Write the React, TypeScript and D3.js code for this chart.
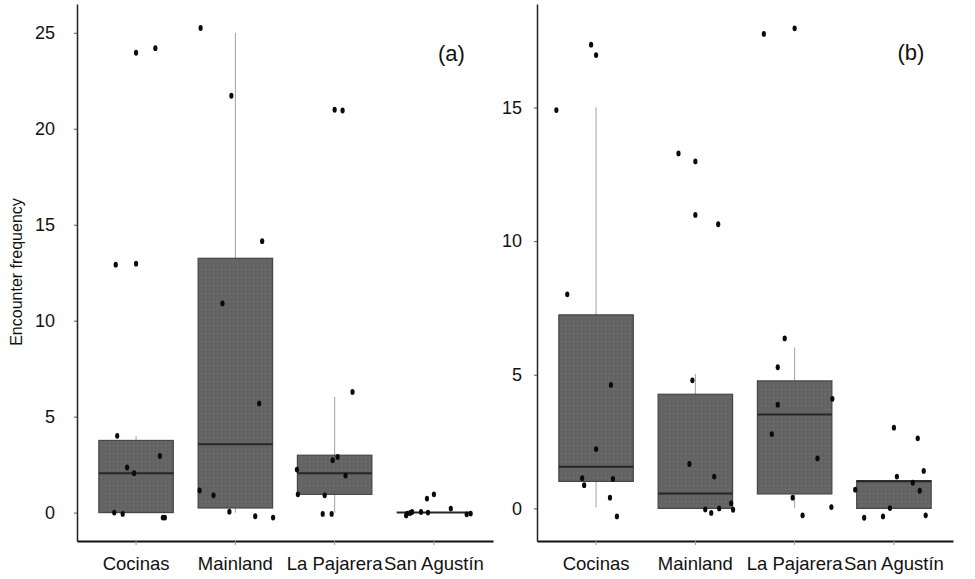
import { useEffect, useRef } from "react";
import * as d3 from "d3";

const sites = ["Cocinas", "Mainland", "La Pajarera", "San Agustín"];

// box stats per site: [q1, median, q3, whiskerLow, whiskerHigh]
const boxesA = [
  [0, 2.05, 3.76, 0, 4.0],
  [0.24, 3.56, 13.25, 0, 25],
  [0.95, 2.05, 2.99, 0, 6.03],
  [0, 0, 0, 0, 0],
];
const boxesB = [
  [1.01, 1.56, 7.24, 0.04, 15],
  [0, 0.56, 4.27, 0, 5.03],
  [0.54, 3.51, 4.77, 0, 6.02],
  [0, 1.02, 1.04, 0, 1.04],
];

// jittered points: [site index, jitter (in category steps), value]
const pointsA = [
  [0, -0.205, 12.92], [0, 0, 12.97], [0, 0, 23.96], [0, 0.194, 24.2],
  [0, -0.19, 4.0], [0, -0.09, 2.35], [0, -0.02, 2.05], [0, 0.24, 2.95],
  [0, -0.22, 0], [0, -0.135, -0.07], [0, 0.27, -0.26], [0, 0.29, -0.26],
  [1, -0.35, 25.25], [1, -0.04, 21.72], [1, 0.27, 14.14], [1, -0.13, 10.9],
  [1, 0.24, 5.69], [1, -0.36, 1.15], [1, -0.22, 0.9], [1, -0.06, 0.05],
  [1, 0.2, -0.19], [1, 0.38, -0.26],
  [2, 0.0, 20.99], [2, 0.08, 20.95], [2, 0.18, 6.29], [2, -0.38, 2.24],
  [2, -0.02, 2.73], [2, 0.03, 2.9], [2, 0.11, 1.93], [2, -0.37, 0.95],
  [2, -0.1, 0.9], [2, -0.12, -0.07], [2, -0.03, -0.07],
  [3, -0.28, -0.15], [3, -0.27, -0.05], [3, -0.24, -0.02], [3, -0.22, 0.03],
  [3, -0.13, 0.03], [3, -0.06, 0], [3, -0.07, 0.73], [3, 0.0, 0.95],
  [3, 0.17, 0.21], [3, 0.33, -0.09], [3, 0.37, -0.05],
];
const pointsB = [
  [0, -0.4, 14.9], [0, -0.05, 17.35], [0, 0, 16.96], [0, -0.29, 8.01],
  [0, 0.15, 4.62], [0, 0, 2.22], [0, -0.14, 1.13], [0, -0.12, 0.87],
  [0, 0.17, 1.1], [0, 0.14, 0.4], [0, 0.21, -0.3],
  [1, -0.17, 13.28], [1, 0, 12.98], [1, 0, 10.98], [1, 0.23, 10.63],
  [1, -0.03, 4.79], [1, -0.06, 1.66], [1, 0.19, 1.19], [1, 0.1, -0.04],
  [1, 0.16, -0.17], [1, 0.24, 0], [1, 0.36, 0.19], [1, 0.38, -0.05],
  [2, -0.31, 17.75], [2, 0, 17.96], [2, -0.1, 6.36], [2, -0.17, 5.28],
  [2, -0.17, 3.88], [2, 0.38, 4.1], [2, -0.23, 2.78], [2, 0.23, 1.87],
  [2, -0.02, 0.4], [2, 0.08, -0.26], [2, 0.37, 0.05],
  [3, 0, 3.02], [3, 0.24, 2.62], [3, 0.3, 1.4], [3, 0.03, 1.19],
  [3, 0.19, 0.96], [3, -0.39, 0.7], [3, 0.26, 0.66], [3, -0.04, 0.01],
  [3, -0.3, -0.35], [3, -0.11, -0.3], [3, 0.32, -0.26],
];

const ticksA = [0, 5, 10, 15, 20, 25];
const ticksB = [0, 5, 10, 15];

const FONT = "'Liberation Sans', Arial, sans-serif";

export default function App() {
  const svgRef = useRef<SVGSVGElement>(null);

  useEffect(() => {
    if (!svgRef.current) return;
    const svg = d3.select(svgRef.current);
    svg.selectAll("*").remove();

    // stippled fill for boxes
    const pat = svg.append("defs").append("pattern")
      .attr("id", "stipple")
      .attr("width", 4)
      .attr("height", 4)
      .attr("patternUnits", "userSpaceOnUse");
    pat.append("rect").attr("width", 4).attr("height", 4).attr("fill", "#646464");
    pat.append("rect").attr("x", 1).attr("y", 1).attr("width", 1).attr("height", 1).attr("fill", "#717171");
    pat.append("rect").attr("x", 3).attr("y", 3).attr("width", 1).attr("height", 1).attr("fill", "#5c5c5c");

    const top = 4;
    const bottom = 541;

    const drawPanel = (
      left: number,
      right: number,
      yDomain: [number, number],
      ticks: number[],
      labelPad: number,
      boxes: number[][],
      points: number[][],
      tag: string,
      tagX: number,
      tagY: number
    ) => {
      const g = svg.append("g");
      const x = d3.scaleBand<string>()
        .domain(sites)
        .range([left, right])
        .paddingInner(0.25)
        .paddingOuter(0.22);
      const y = d3.scaleLinear().domain(yDomain).range([bottom, top]);
      const bw = x.bandwidth();
      const cx = (i: number) => (x(sites[i]) as number) + bw / 2;

      // whiskers
      g.selectAll(".whisker")
        .data(boxes)
        .join("line")
        .attr("x1", (d, i) => cx(i))
        .attr("x2", (d, i) => cx(i))
        .attr("y1", d => y(d[3]))
        .attr("y2", d => y(d[4]))
        .attr("stroke", "#a0a0a0")
        .attr("stroke-width", 1);

      // boxes
      g.selectAll(".box")
        .data(boxes)
        .join("rect")
        .attr("x", (d, i) => x(sites[i]) as number)
        .attr("y", d => y(d[2]))
        .attr("width", bw)
        .attr("height", d => Math.max(0, y(d[0]) - y(d[2])))
        .attr("fill", "url(#stipple)")
        .attr("stroke", "#464646")
        .attr("stroke-width", 1.2);

      // medians
      g.selectAll(".median")
        .data(boxes)
        .join("line")
        .attr("x1", (d, i) => x(sites[i]) as number)
        .attr("x2", (d, i) => (x(sites[i]) as number) + bw)
        .attr("y1", d => y(d[1]))
        .attr("y2", d => y(d[1]))
        .attr("stroke", "#262626")
        .attr("stroke-width", 2);

      // axes
      const ya = g.append("g")
        .attr("transform", `translate(${left},0)`)
        .call(d3.axisLeft(y).tickValues(ticks).tickSize(3).tickSizeOuter(0).tickPadding(labelPad));
      ya.select(".domain").attr("stroke", "#222").attr("stroke-width", 1.5);
      ya.selectAll(".tick line").attr("stroke", "#555");
      ya.selectAll("text").attr("font-size", 18).attr("font-family", FONT).attr("fill", "#111");

      const xa = g.append("g")
        .attr("transform", `translate(0,${bottom})`)
        .call(d3.axisBottom(x).tickSize(4).tickSizeOuter(0).tickPadding(12));
      xa.select(".domain").attr("stroke", "#111").attr("stroke-width", 2);
      xa.selectAll(".tick line").attr("stroke", "#999");
      xa.selectAll("text").attr("font-size", 18.5).attr("font-family", FONT).attr("fill", "#111");

      // jittered points
      g.selectAll(".pt")
        .data(points)
        .join("ellipse")
        .attr("cx", d => cx(d[0]) + d[1] * x.step())
        .attr("cy", d => y(d[2]))
        .attr("rx", 2.1)
        .attr("ry", 2.9)
        .attr("fill", "#0a0a0a");

      g.append("text")
        .attr("x", tagX)
        .attr("y", tagY)
        .attr("text-anchor", "middle")
        .attr("font-size", 22)
        .attr("font-family", FONT)
        .attr("fill", "#111")
        .text(tag);
    };

    drawPanel(77, 493, [-1.48, 26.5], ticksA, 19, boxesA, pointsA, "(a)", 451.5, 61);
    drawPanel(537, 953, [-1.22, 18.87], ticksB, 12, boxesB, pointsB, "(b)", 911, 60);

    svg.append("text")
      .attr("transform", "translate(22,272) rotate(-90)")
      .attr("text-anchor", "middle")
      .attr("font-size", 16)
      .attr("font-family", FONT)
      .attr("fill", "#111")
      .text("Encounter frequency");
  }, []);

  return (
    <svg
      ref={svgRef}
      width={975}
      height={579}
      style={{ position: "absolute", left: 0, top: 0, background: "#fff" }}
    />
  );
}
